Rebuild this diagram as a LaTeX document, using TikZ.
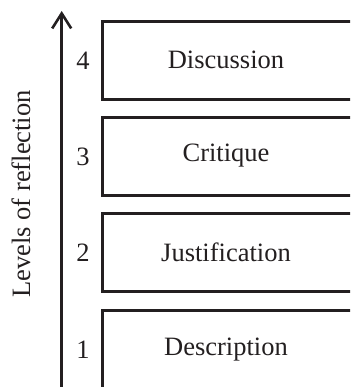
\documentclass[tikz,border=0pt]{standalone}
\usepackage{fontspec}
\setmainfont{Liberation Serif}
\usetikzlibrary{arrows.meta}
\definecolor{ink}{HTML}{231F20}
\begin{document}
\begin{tikzpicture}[x=1pt,y=-1pt,
  lvlbox/.style={draw=ink,line width=2.6pt,minimum width=251pt,minimum height=78pt,anchor=north west,inner sep=0pt},
  lbl/.style={text=ink,font=\fontsize{26.5}{30}\selectfont},
  num/.style={text=ink,font=\fontsize{26.5}{30}\selectfont}]
\useasboundingbox (0,0) rectangle (350,387);
\clip (0,0) rectangle (350,387);
\node[lvlbox] (b4) at (101,20) {};
\node[lvlbox] (b3) at (101,116) {};
\node[lvlbox] (b2) at (101,212) {};
\node[lvlbox] (b1) at (101,309) {};
\node[lbl] (t4) at (226,60) {Discussion};
\node[lbl] (t3) at (226,156) {Critique};
\node[lbl] (t2) at (226,252) {Justification};
\node[lbl] (t1) at (226,350) {Description};
\node[num] (n4) at (83,61) {4};
\node[num] (n3) at (83,157) {3};
\node[num] (n2) at (83,253) {2};
\node[num] (n1) at (83,350) {1};
\coordinate (abot) at (61.7,395);
\coordinate (atop) at (61.7,11);
\draw[ink,line width=2.6pt,-{Straight Barb[length=15pt,width=19pt,line width=2.6pt]}] (abot) -- (atop);
\node[lbl,rotate=90] (axis) at (21,194) {Levels of reflection};
\end{tikzpicture}
\end{document}
